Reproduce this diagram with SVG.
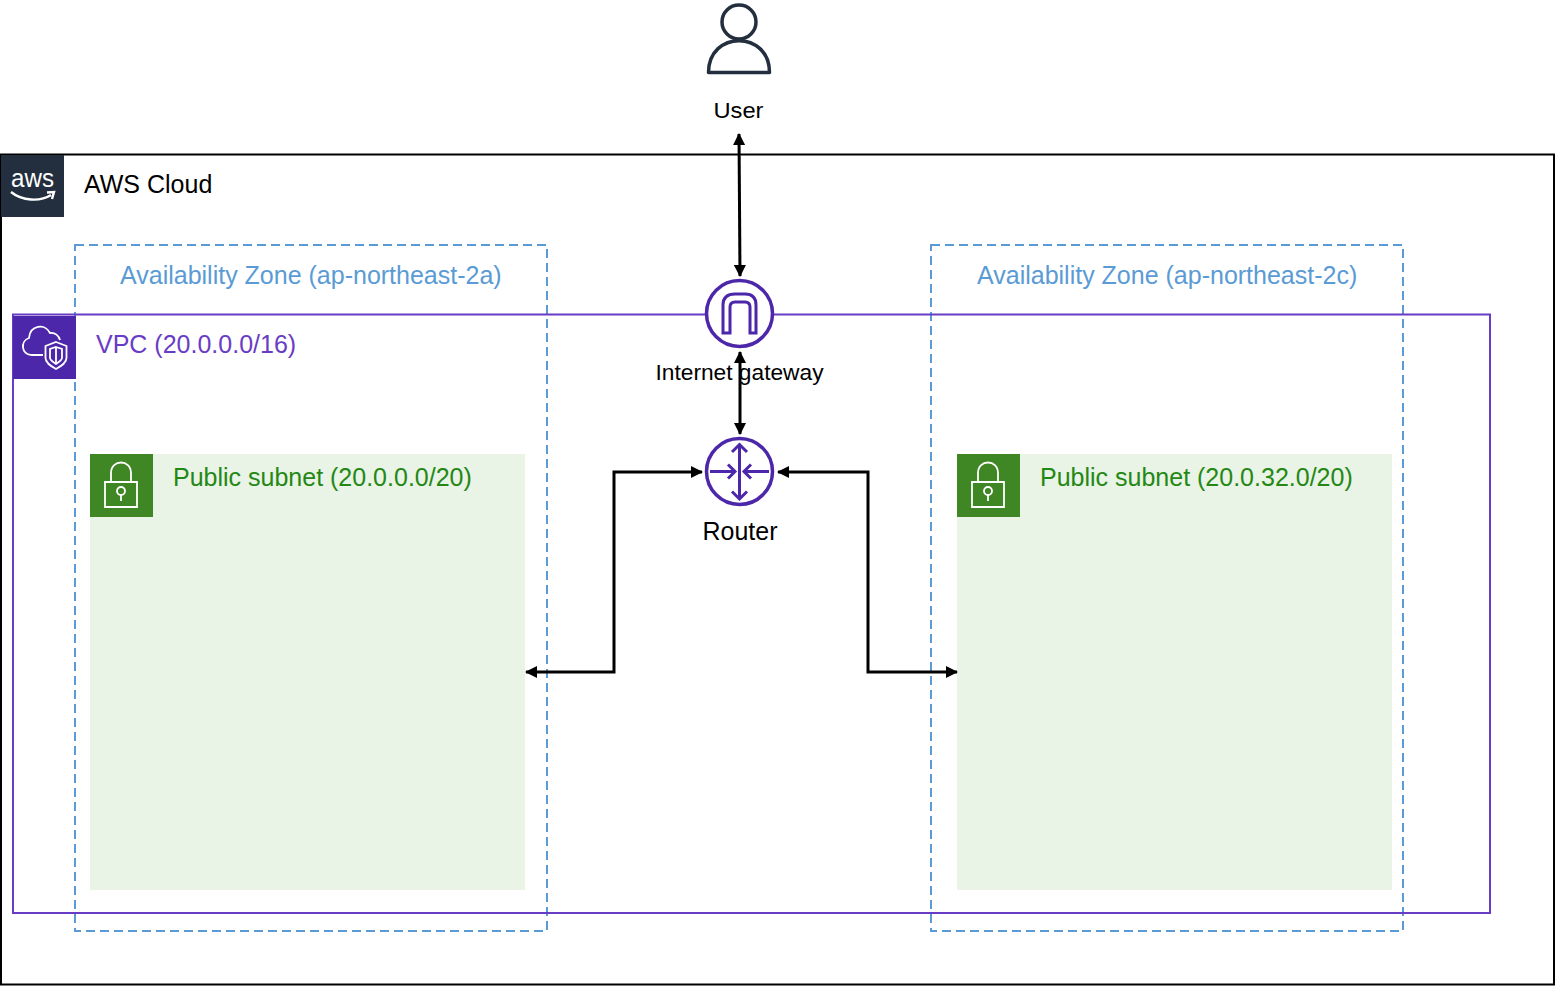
<svg xmlns="http://www.w3.org/2000/svg" width="1555" height="986" viewBox="0 0 1555 986">
<defs>
<style>
text{font-family:"Liberation Sans",Arial,sans-serif;font-size:25px}
.s{font-size:22px}
.az{fill:#5a9bd5}
.sub{fill:#248814}
.lb{fill:#000}
.conn{fill:none;stroke:#000;stroke-width:3}
.wh{fill:none;stroke:#fff;stroke-width:1.800}
.pu{fill:#fff;stroke:#4d27aa;stroke-width:3.500}
.pu3{fill:none;stroke:#4d27aa;stroke-width:3}
.zone{fill:none;stroke:#5a9bd5;stroke-width:2;stroke-dasharray:9 5}
</style>
<marker id="a" viewBox="0 0 12 12" markerUnits="userSpaceOnUse" markerWidth="13" markerHeight="12" refX="11" refY="6" orient="auto-start-reverse"><path d="M0 0L12 6L0 12Z" fill="#000"/></marker>
<g id="lock"><rect width="63" height="63" fill="#3f8624"/><path class="wh" d="M15 28H47V53H15ZM21 28V19C21 5 41 5 41 19V28M31 47V41"/><circle class="wh" cx="31" cy="37" r="4"/></g>
</defs>
<rect x="0" y="0" width="1555" height="986" fill="#fff"/>
<g id="aws-cloud"><rect x="1" y="154.500" width="1553" height="830" fill="#fff" stroke="#000" stroke-width="2"/><rect x="1" y="155" width="63" height="62" fill="#232f3e"/>
<text x="11" y="187" fill="#fff" textLength="43" lengthAdjust="spacingAndGlyphs">aws</text><path d="M11 192C22 201 40 202 51 195M47 192.500L54 192L52 199" fill="none" stroke="#fff" stroke-width="2.400"/>
<text x="84" y="192.500" class="lb">AWS Cloud</text></g>
<g id="az-a"><rect class="zone" x="75" y="245" width="472" height="686"/><text x="120" y="284" class="az">Availability Zone (ap-northeast-2a)</text></g>
<g id="az-c"><rect class="zone" x="931" y="245" width="472" height="686"/><text x="977" y="284" class="az">Availability Zone (ap-northeast-2c)</text></g>
<g id="vpc"><rect x="13" y="314.500" width="1477" height="598.500" fill="none" stroke="#693cc5" stroke-width="2"/><rect x="13" y="316" width="63" height="63" fill="#4d27aa"/>
<path class="wh" d="M43 355H32C21 355 20 341 29 338C30 325 45 323 50 333C55 332 59 336 60 340"/><path class="wh" d="M56 342L66.500 346V358C66.500 363 61 366 56 369C51 366 45.500 363 45.500 358V346Z"/><path class="wh" d="M56 347L62 349V358C62 360 59 362 56 364C53 362 50 360 50 358V349ZM56 347V364" stroke-width="1.500"/>
<text x="96" y="353" fill="#693cc5">VPC (20.0.0.0/16)</text></g>
<g id="subnet-a"><rect x="90" y="454" width="435" height="436" fill="#e9f3e6"/><use href="#lock" x="90" y="454"/><text x="173" y="486" class="sub">Public subnet (20.0.0.0/20)</text></g>
<g id="subnet-c"><rect x="957" y="454" width="435" height="436" fill="#e9f3e6"/><use href="#lock" x="957" y="454"/><text x="1040" y="486" class="sub">Public subnet (20.0.32.0/20)</text></g>
<g id="connectors">
<path class="conn" d="M739 134L740 276" marker-start="url(#a)" marker-end="url(#a)"/>
<path class="conn" d="M740 352V434" marker-start="url(#a)" marker-end="url(#a)"/>
<path class="conn" d="M702 472H614V672H526" marker-start="url(#a)" marker-end="url(#a)"/>
<path class="conn" d="M778 472H868V672H957" marker-start="url(#a)" marker-end="url(#a)"/>
</g>
<g id="user"><circle cx="739" cy="22" r="17" fill="none" stroke="#232f3e" stroke-width="3.500"/><path d="M708.500 72.500C708.500 30 769.500 30 769.500 72.500Z" fill="none" stroke="#232f3e" stroke-width="3.500" stroke-linejoin="round"/><text x="738.500" y="118" text-anchor="middle" class="lb s" textLength="50" lengthAdjust="spacingAndGlyphs">User</text></g>
<g id="igw"><circle cx="739.500" cy="313.500" r="33" class="pu"/><path class="pu3" d="M723 333V305Q723 294 735 294H745Q756 294 756 305V333H750V307Q750 302 745 302H735Q730 302 730 307V333Z" stroke-width="2.500"/><text x="739.500" y="380" text-anchor="middle" class="lb s" textLength="168" lengthAdjust="spacingAndGlyphs">Internet gateway</text></g>
<g id="router"><circle cx="739.500" cy="471.500" r="33" class="pu"/><path class="pu3" d="M739.500 445V499M732 452L739.500 444.500L747 452M732 491.500L739.500 499L747 491.500M710 471.500H735M728 464.500L735 471.500L728 478.500M769 471.500H744M751 464.500L744 471.500L751 478.500"/><text x="740" y="540" text-anchor="middle" class="lb" textLength="75" lengthAdjust="spacingAndGlyphs">Router</text></g>
</svg>
